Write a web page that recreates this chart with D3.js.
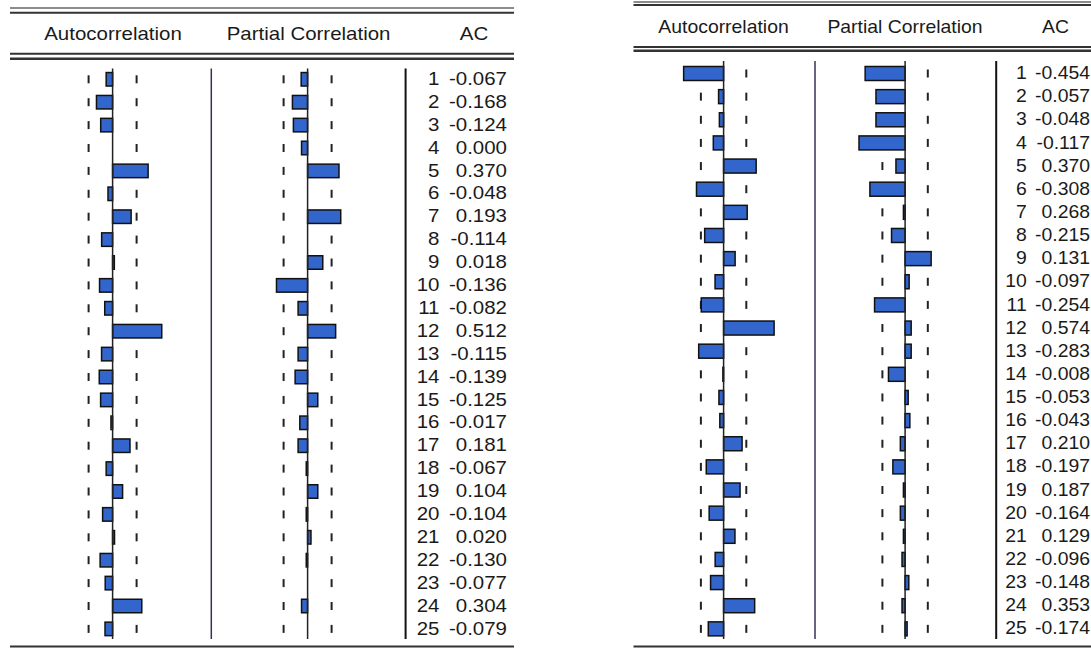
<!DOCTYPE html>
<html>
<head>
<meta charset="utf-8">
<script src="https://cdn.jsdelivr.net/npm/d3@7"></script>
<style>
  html, body { margin: 0; padding: 0; background: #fff; }
  svg { display: block; }
  text { font-family: "Liberation Sans", Arial, sans-serif; fill: #1a1a1a; }
</style>
</head>
<body>
<svg id="chart" width="1091" height="648"></svg>
<script>
// ---- data ----
const lags = [1,2,3,4,5,6,7,8,9,10,11,12,13,14,15,16,17,18,19,20,21,22,23,24,25];
const headers = ["Autocorrelation", "Partial Correlation", "AC"];

// Left correlogram
const leftAC  = [-0.067,-0.168,-0.124,0.000,0.370,-0.048,0.193,-0.114,0.018,-0.136,-0.082,0.512,-0.115,-0.139,-0.125,-0.017,0.181,-0.067,0.104,-0.104,0.020,-0.130,-0.077,0.304,-0.079];
const leftPAC = [-0.067,-0.158,-0.148,-0.063,0.327,0.000,0.345,0.000,0.158,-0.324,-0.099,0.292,-0.099,-0.130,0.106,-0.081,-0.099,-0.014,0.106,-0.014,0.035,-0.014,0.000,-0.063,0.000];
const leftBand = 0.25;

// Right correlogram
const rightAC  = [-0.454,-0.057,-0.048,-0.117,0.370,-0.308,0.268,-0.215,0.131,-0.097,-0.254,0.574,-0.283,-0.008,-0.053,-0.043,0.210,-0.197,0.187,-0.164,0.129,-0.096,-0.148,0.353,-0.174];
const rightPAC = [-0.454,-0.331,-0.331,-0.524,-0.104,-0.400,-0.019,-0.154,0.296,0.046,-0.347,0.069,0.069,-0.189,0.035,0.054,-0.054,-0.139,-0.019,-0.054,-0.019,-0.035,0.042,-0.035,0.023];
const rightBand = 0.258;

// ---- layout ----
const panels = [
  {
    ac: leftAC, pac: leftPAC, band: leftBand,
    x1: 10, x2: 514,
    topLines: [[8, 1.5, "#666"], [12.8, 2, "#333"], [53.7, 2, "#333"], [58.7, 2.5, "#333"]],
    bottomY: 646.5,
    headerY: 40, headerX: [113, 308.6, 474],
    acZero: 112.6, pacZero: 307.6, pxPerUnit: 96,
    sep1: 211.3, sep2: 405.6,
    vTop: 68.5, vBot: 639,
    row1: 79.3, row25: 79.3 + 24 * 22.9,
    barH: 13.5,
    lagX: 439.4, valX: 507,
    fontSize: 17.5, sx: 1.17
  },
  {
    ac: rightAC, pac: rightPAC, band: rightBand,
    x1: 633.5, x2: 1091,
    topLines: [[2, 1.5, "#666"], [5, 2, "#333"], [47, 2, "#333"], [50.8, 2.5, "#333"]],
    bottomY: 646.5,
    headerY: 32.5, headerX: [723.5, 905, 1055.5],
    acZero: 723.6, pacZero: 905.1, pxPerUnit: 88,
    sep1: 815, sep2: 996.2,
    vTop: 61, vBot: 639,
    row1: 73.5, row25: 73.5 + 24 * 23.14,
    barH: 14,
    lagX: 1026.7, valX: 1090,
    fontSize: 17.8, sx: 1.09
  }
];

const svg = d3.select("#chart");
svg.append("rect").attr("width", 1091).attr("height", 648).attr("fill", "#fff");

const fmt3 = d3.format(".3f");
const fmt = v => fmt3(v).replace("\u2212", "-");

function stretchedText(g, x, y, str, anchor, p) {
  g.append("g")
    .attr("transform", `translate(${x},${y})`)
    .append("text")
    .attr("transform", `scale(${p.sx},1)`)
    .attr("text-anchor", anchor)
    .attr("font-size", p.fontSize)
    .text(str);
}

panels.forEach(p => {
  const g = svg.append("g");
  const y = d3.scaleLinear().domain([lags[0], lags[lags.length - 1]]).range([p.row1, p.row25]);
  const xAC = d3.scaleLinear().domain([-1, 1]).range([p.acZero - p.pxPerUnit, p.acZero + p.pxPerUnit]);
  const xPAC = d3.scaleLinear().domain([-1, 1]).range([p.pacZero - p.pxPerUnit, p.pacZero + p.pxPerUnit]);

  // horizontal rules
  p.topLines.forEach(([yy, w, c]) => {
    g.append("line").attr("x1", p.x1).attr("x2", p.x2).attr("y1", yy).attr("y2", yy)
      .attr("stroke", c).attr("stroke-width", w);
  });
  g.append("line").attr("x1", p.x1).attr("x2", p.x2).attr("y1", p.bottomY).attr("y2", p.bottomY)
    .attr("stroke", "#333").attr("stroke-width", 2);

  // headers
  headers.forEach((h, i) => stretchedText(g, p.headerX[i], p.headerY, h, "middle", p));

  // separators
  g.append("line").attr("x1", p.sep1).attr("x2", p.sep1).attr("y1", p.vTop).attr("y2", p.vBot)
    .attr("stroke", "#33335a").attr("stroke-width", 1.5);
  g.append("line").attr("x1", p.sep2).attr("x2", p.sep2).attr("y1", p.vTop).attr("y2", p.vBot)
    .attr("stroke", "#111").attr("stroke-width", 2);

  // confidence dashes (one per row)
  [xAC, xPAC].forEach(xs => {
    [-p.band, p.band].forEach(b => {
      g.selectAll(null).data(lags).enter().append("line")
        .attr("x1", xs(b)).attr("x2", xs(b))
        .attr("y1", d => y(d) - 4).attr("y2", d => y(d) + 4)
        .attr("stroke", "#222").attr("stroke-width", 2);
    });
  });

  // bars
  [[xAC, p.ac], [xPAC, p.pac]].forEach(([xs, vals]) => {
    g.selectAll(null).data(lags.map((l, i) => ({ lag: l, v: vals[i] })).filter(d => d.v !== 0))
      .enter().append("rect")
      .attr("x", d => Math.min(xs(0), xs(d.v)))
      .attr("width", d => Math.max(Math.abs(xs(d.v) - xs(0)), 0.5))
      .attr("y", d => y(d.lag) - p.barH / 2)
      .attr("height", p.barH)
      .attr("fill", "#3366cc")
      .attr("stroke", "#111")
      .attr("stroke-width", 1.5);
    // zero line
    g.append("line").attr("x1", xs(0)).attr("x2", xs(0)).attr("y1", p.vTop).attr("y2", p.vBot)
      .attr("stroke", "#222").attr("stroke-width", 1.5);
  });

  // lag numbers and AC values
  lags.forEach((l, i) => {
    stretchedText(g, p.lagX, y(l) + 5.6, String(l), "end", p);
    stretchedText(g, p.valX, y(l) + 5.6, fmt(p.ac[i]), "end", p);
  });
});
</script>
</body>
</html>
